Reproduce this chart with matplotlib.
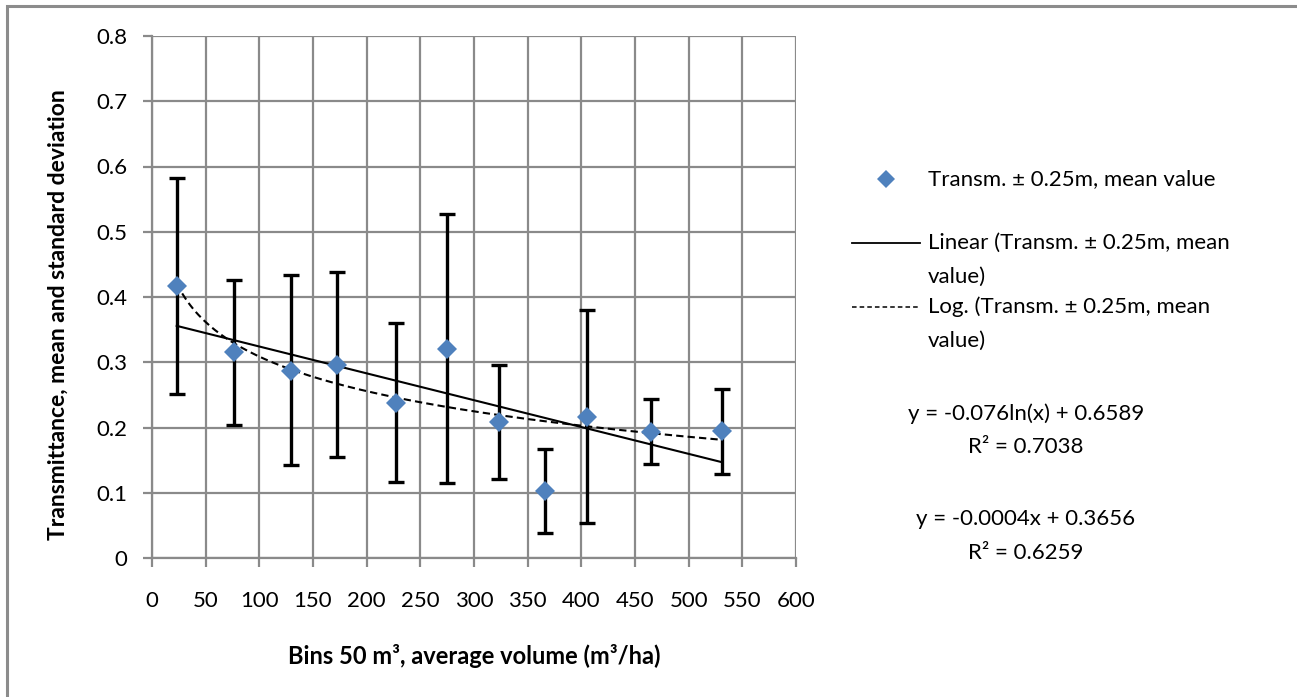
import numpy as np
import matplotlib
matplotlib.use("Agg")
import matplotlib.pyplot as plt
from matplotlib.lines import Line2D
from matplotlib.patches import Rectangle

# ---- data ----
x_vol = [23, 76.4, 129.2, 172.4, 227.6, 275, 323.6, 366, 405.6, 464.6, 530.8]
y_mean = [0.417, 0.315, 0.287, 0.296, 0.2375, 0.320, 0.208, 0.102, 0.2167, 0.193, 0.194]
err_top = [0.582, 0.426, 0.433, 0.438, 0.360, 0.527, 0.296, 0.1666, 0.380, 0.244, 0.2596]
err_bot = [0.251, 0.204, 0.142, 0.155, 0.116, 0.1145, 0.1217, 0.038, 0.053, 0.1436, 0.129]
x_ticks = [0, 50, 100, 150, 200, 250, 300, 350, 400, 450, 500, 550, 600]
y_ticks = [0, 0.1, 0.2, 0.3, 0.4, 0.5, 0.6, 0.7, 0.8]
y_tick_labels = ["0", "0.1", "0.2", "0.3", "0.4", "0.5", "0.6", "0.7", "0.8"]
series_label = "Transm. \u00b1 0.25m, mean value"
lin_label = ["Linear (Transm. \u00b1 0.25m, mean", "value)"]
log_label = ["Log. (Transm. \u00b1 0.25m, mean", "value)"]
eq_log = ["y = -0.076ln(x) + 0.6589", "R\u00b2 = 0.7038"]
eq_lin = ["y = -0.0004x + 0.3656", "R\u00b2 = 0.6259"]

plt.rcParams['font.family'] = ['Lato', 'DejaVu Sans']

W, H = 1297, 697
fig = plt.figure(figsize=(W / 100, H / 100), dpi=100)

def fx(px):
    return px / W

def fy(py):
    return 1 - py / H

# outer border (top and left visible)
fig.patches.append(Rectangle((fx(7), fy(H + 20)), 1.2, fy(6) - fy(H + 20),
                             transform=fig.transFigure, fill=False,
                             edgecolor='#8c8c8c', linewidth=2.2))

ax = fig.add_axes([fx(152), fy(558), fx(796) - fx(152), fy(36) - fy(558)])
ax.set_xlim(0, 600)
ax.set_ylim(0, 0.8)

gc = '#8a8a8a'
ax.set_xticks(x_ticks)
ax.set_xticklabels([str(t) for t in x_ticks])
ax.set_yticks(y_ticks)
ax.set_yticklabels(y_tick_labels)
ax.grid(True, color=gc, linewidth=1.6)
ax.set_axisbelow(True)
for s in ax.spines.values():
    s.set_visible(False)
ax.spines['left'].set_visible(True)
ax.spines['bottom'].set_visible(True)
ax.spines['left'].set_color(gc)
ax.spines['bottom'].set_color(gc)
ax.spines['left'].set_linewidth(1.6)
ax.spines['bottom'].set_linewidth(1.6)
ax.tick_params(axis='both', direction='out', length=6.5, width=1.6, color=gc,
               labelsize=16, labelcolor='black')
ax.tick_params(axis='x', pad=17)
ax.tick_params(axis='y', pad=11)

xv = np.array(x_vol)
yv = np.array(y_mean)
lower = yv - np.array(err_bot)
upper = np.array(err_top) - yv

ax.errorbar(xv, yv, yerr=[lower, upper], fmt='none', ecolor='black',
            elinewidth=2.4, capsize=6, capthick=2.4, zorder=3)

# trend lines fitted from data
xs = np.linspace(xv.min(), xv.max(), 200)
p_lin = np.polyfit(xv, yv, 1)
ax.plot(xs, np.polyval(p_lin, xs), color='black', linewidth=1.5, zorder=4)
p_log = np.polyfit(np.log(xv), yv, 1)
ax.plot(xs, np.polyval(p_log, np.log(xs)), color='black', linewidth=1.5,
        linestyle=(0, (3.5, 2)), zorder=4)

ax.plot(xv, yv, linestyle='none', marker='D', markersize=9.8,
        color='#4f81bd', markeredgewidth=0, zorder=5)

ax.set_xlabel("Bins 50 m\u00b3, average volume (m\u00b3/ha)", fontsize=17,
              fontweight='bold', labelpad=24)
ax.set_ylabel("Transmittance, mean and standard deviation", fontsize=16.5,
              fontweight='bold', va='center')
ax.yaxis.set_label_coords(-0.146, 0.466)

# ---- legend drawn manually ----
fs = 16
fig.add_artist(Line2D([fx(886)], [fy(179)], marker='D', markersize=9,
                      color='#4f81bd', markeredgewidth=0, linestyle='none',
                      transform=fig.transFigure))
fig.text(fx(928), fy(179), series_label, fontsize=fs, va='center', ha='left')

fig.add_artist(Line2D([fx(852), fx(920)], [fy(243), fy(243)], color='black',
                      linewidth=1.3, transform=fig.transFigure))
fig.text(fx(928), fy(243), lin_label[0], fontsize=fs, va='center', ha='left')
fig.text(fx(928), fy(277), lin_label[1], fontsize=fs, va='center', ha='left')

fig.add_artist(Line2D([fx(852), fx(920)], [fy(307), fy(307)], color='black',
                      linewidth=1.1, linestyle=(0, (3, 2)),
                      transform=fig.transFigure))
fig.text(fx(928), fy(307), log_label[0], fontsize=fs, va='center', ha='left')
fig.text(fx(928), fy(341), log_label[1], fontsize=fs, va='center', ha='left')

fig.text(fx(1026), fy(414), eq_log[0], fontsize=fs, va='center', ha='center')
fig.text(fx(1026), fy(447), eq_log[1], fontsize=fs, va='center', ha='center')
fig.text(fx(1026), fy(519), eq_lin[0], fontsize=fs, va='center', ha='center')
fig.text(fx(1026), fy(553), eq_lin[1], fontsize=fs, va='center', ha='center')

fig.savefig("out.png", dpi=100, facecolor='white')
